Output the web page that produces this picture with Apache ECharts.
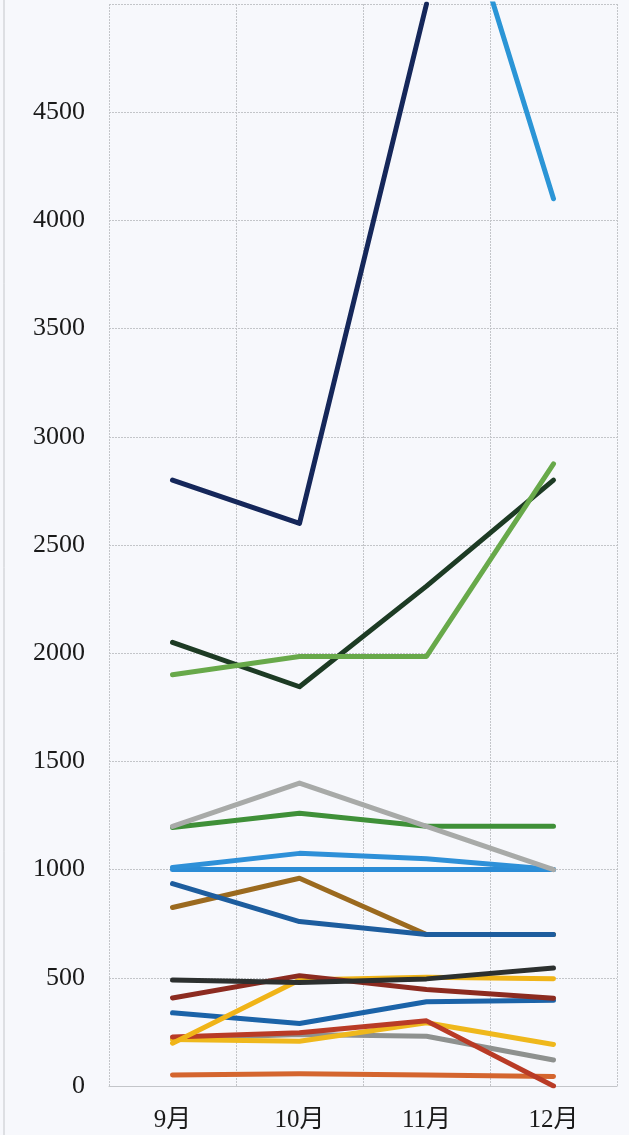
<!DOCTYPE html>
<html>
<head>
<meta charset="utf-8">
<style>
html,body{margin:0;padding:0;background:#f7f8fc;}
#chart{width:629px;height:1135px;}
</style>
<script src="https://cdn.jsdelivr.net/npm/echarts@6/dist/echarts.min.js"></script>
</head>
<body>
<div id="chart"></div>
<script>
const months = ['9月', '10月', '11月', '12月'];
const yTicks = [0, 500, 1000, 1500, 2000, 2500, 3000, 3500, 4000, 4500, 5000];

// series values (null = point lies above the visible area)
const sOrange     = [51, 57, 51, 44];
const sGray       = [220, 238, 230, 120];
const sYellowB    = [215, 207, 292, 192];
const sRed        = [227, 246, 301, 0];
const sBlue       = [338, 289, 389, 396];
const sYellowA    = [198, 490, 502, 496];
const sMaroon     = [407, 510, 446, 405];
const sBlack      = [490, 478, 495, 545];
const sBrown      = [825, 960, 700, 700];
const sDarkBlue   = [935, 760, 700, 700];
const sBlueFlat   = [1000, 1000, 1000, 1000];
const sBlueUpper  = [1010, 1075, 1050, 1000];
const sGreen      = [1195, 1260, 1200, 1200];
const sSilver     = [1200, 1400, 1200, 1000];
const sDarkGreen  = [2050, 1845, 2310, 2800];
const sLightGreen = [1900, 1985, 1985, 2875];
const sNavy       = [2800, 2600, 5000, null];
const sSkyBlue    = [null, null, 6000, 4100];

const seriesDefs = [
  [sOrange, '#d4652e'],
  [sGray, '#8e918f'],
  [sYellowB, '#efb81c'],
  [sRed, '#b93b26'],
  [sBlue, '#1b63a8'],
  [sYellowA, '#f0b418'],
  [sMaroon, '#8c2b20'],
  [sBlack, '#2c302f'],
  [sBrown, '#9b6a1f'],
  [sDarkBlue, '#1d5d9e'],
  [sBlueFlat, '#2b8cd6'],
  [sBlueUpper, '#2e90d8'],
  [sGreen, '#3f9038'],
  [sSilver, '#a8aaa8'],
  [sDarkGreen, '#1d3b24'],
  [sLightGreen, '#68a94a'],
  [sNavy, '#15275a'],
  [sSkyBlue, '#2b95d6']
];

const chart = echarts.init(document.getElementById('chart'), null, {renderer: 'canvas'});
const gridColor = '#c3c5c9';
chart.setOption({
  backgroundColor: '#f7f8fc',
  animation: false,
  grid: {left: 109, right: 12, top: 4, bottom: 49, containLabel: false},
  xAxis: {
    type: 'category',
    data: months,
    boundaryGap: true,
    axisLine: {show: true, lineStyle: {color: gridColor, width: 1}},
    axisTick: {show: false},
    splitLine: {show: true, lineStyle: {color: gridColor, width: 1, type: [2, 1]}},
    axisLabel: {
      margin: 22,
      color: '#1a1a1a',
      fontSize: 25,
      fontFamily: '"Liberation Serif", "DejaVu Serif", "Noto Sans CJK JP", serif'
    }
  },
  yAxis: {
    type: 'value',
    min: yTicks[0],
    max: yTicks[yTicks.length - 1],
    interval: yTicks[1] - yTicks[0],
    axisLine: {show: false},
    axisTick: {show: false},
    splitLine: {show: true, lineStyle: {color: gridColor, width: 1, type: [2, 1]}},
    axisLabel: {
      margin: 24,
      showMaxLabel: false,
      formatter: function (v) { return String(v); },
      color: '#1a1a1a',
      fontSize: 26,
      fontFamily: '"Liberation Serif", "DejaVu Serif", serif'
    }
  },
  graphic: [
    {type: 'line', shape: {x1: 4, y1: 0, x2: 4, y2: 1135}, style: {stroke: '#c4c6ca', lineWidth: 1}, silent: true}
  ],
  series: seriesDefs.map(function (d) {
    return {
      type: 'line',
      data: d[0],
      symbol: 'none',
      clip: true,
      connectNulls: false,
      lineStyle: {color: d[1], width: 5, cap: 'round', join: 'round'},
      itemStyle: {color: d[1]}
    };
  })
});
</script>
</body>
</html>
